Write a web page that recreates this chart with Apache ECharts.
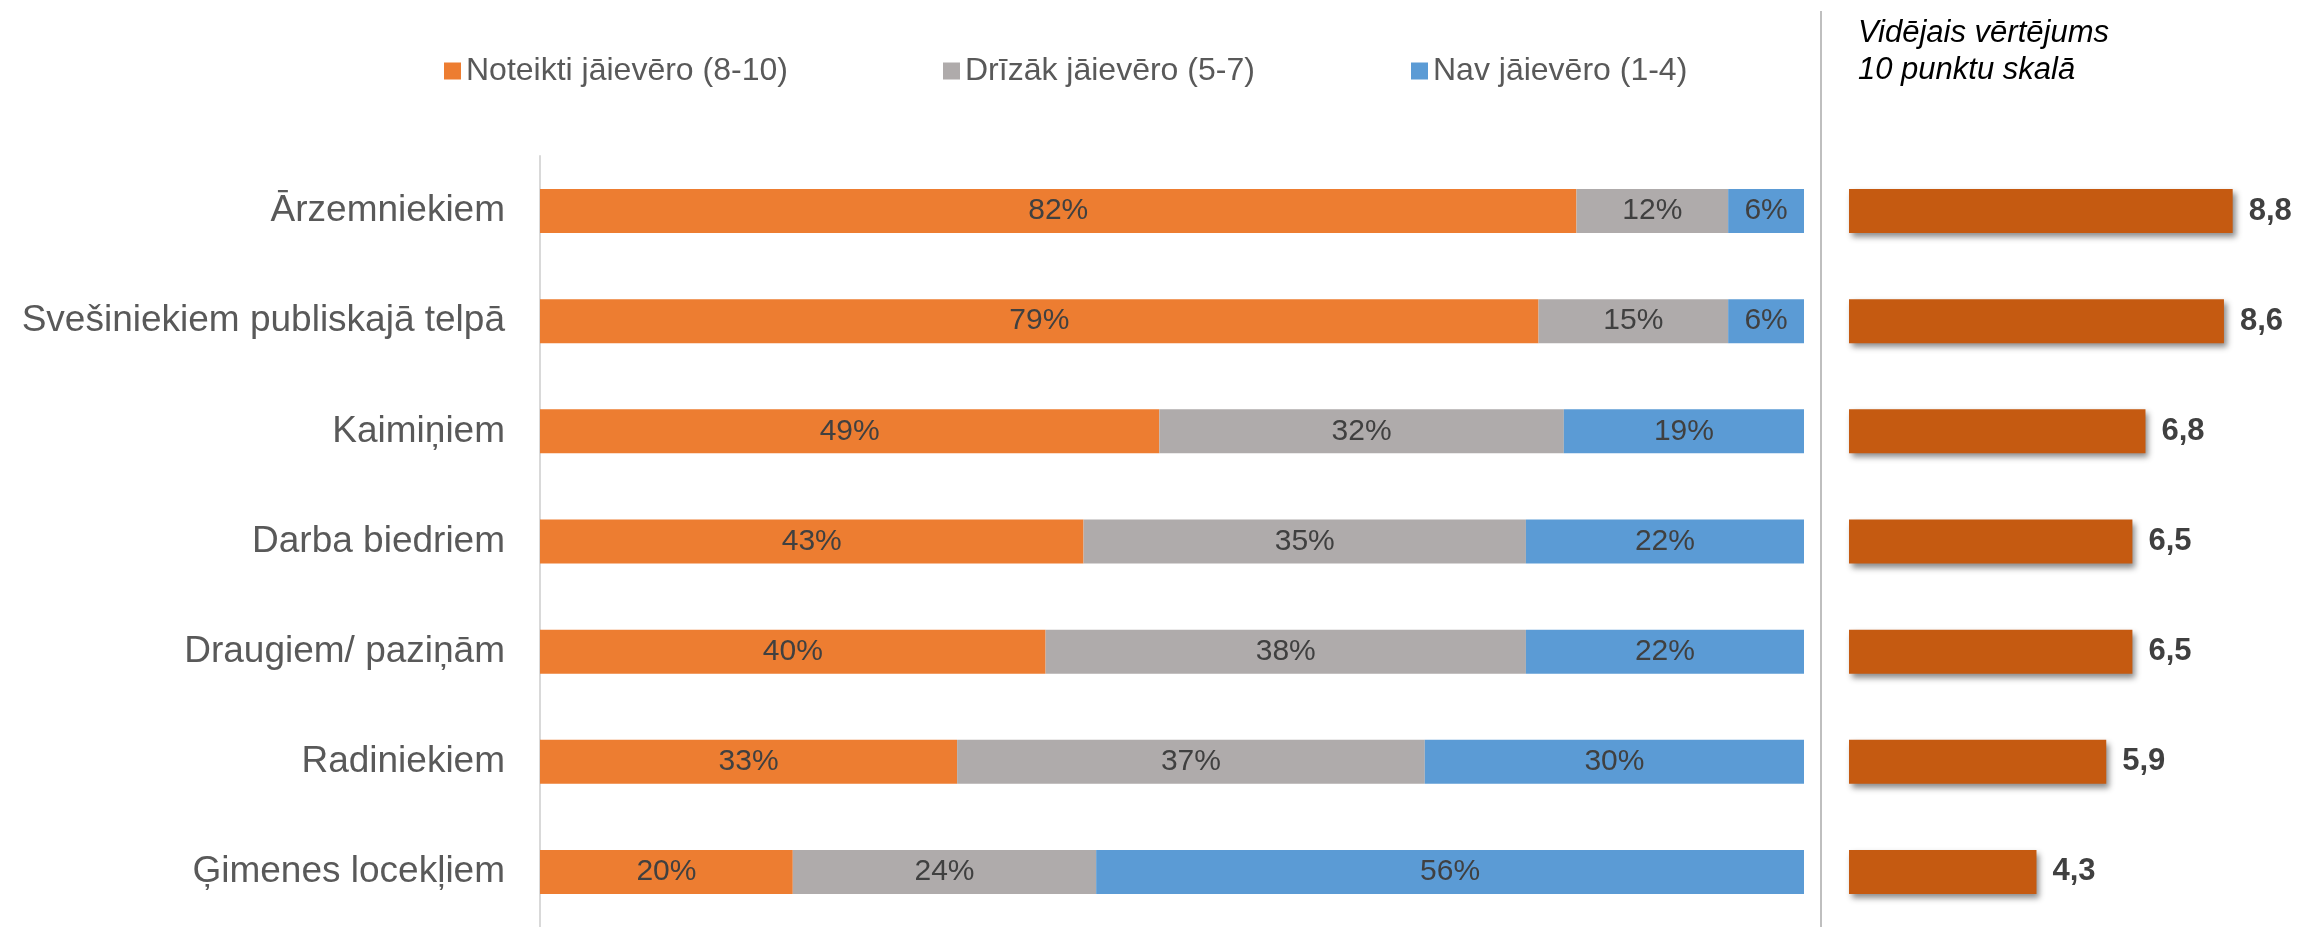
<!DOCTYPE html>
<html>
<head>
<meta charset="utf-8">
<script src="https://cdn.jsdelivr.net/npm/echarts@6/dist/echarts.min.js"></script>
<style>
  html, body { margin: 0; padding: 0; background: #fff; }
  #chart { width: 2298px; height: 927px; }
</style>
</head>
<body>
<div id="chart"></div>
<script>
var FONT = '"Liberation Sans", Arial, sans-serif';

// data
var categories = ["Ārzemniekiem", "Svešiniekiem publiskajā telpā", "Kaimiņiem", "Darba biedriem",
    "Draugiem/ paziņām", "Radiniekiem", "Ģimenes locekļiem"];
var seriesNames = ["Noteikti jāievēro (8-10)", "Drīzāk jāievēro (5-7)", "Nav jāievēro (1-4)"];
var definitely = [82, 79, 49, 43, 40, 33, 20];
var rather = [12, 15, 32, 35, 38, 37, 24];
var notNeeded = [6, 6, 19, 22, 22, 30, 56];
var average = [8.8, 8.6, 6.8, 6.5, 6.5, 5.9, 4.3];
var avgTitle = "Vidējais vērtējums\n10 punktu skalā";

var colors = ["#ED7D31", "#AFABAB", "#5B9BD5"];
var avgColor = "#C55A11";

var chart = echarts.init(document.getElementById("chart"));

function stackSeries(name, data, color) {
    return {
        name: name,
        type: "bar",
        stack: "total",
        xAxisIndex: 0,
        yAxisIndex: 0,
        barWidth: 44,
        itemStyle: { color: color },
        label: {
            show: true,
            position: "inside",
            formatter: "{c}%",
            color: "#404040",
            fontSize: 30,
            fontFamily: FONT
        },
        data: data
    };
}

// one legend per item so each sits where Excel put it
function legendAt(name, left) {
    return {
        data: [name],
        left: left,
        top: 50,
        icon: "rect",
        itemWidth: 17,
        itemHeight: 17,
        itemGap: 0,
        textStyle: { color: "#595959", fontSize: 32, fontFamily: FONT }
    };
}

var option = {
    animation: false,
    backgroundColor: "#fff",
    title: {
        text: avgTitle,
        left: 1853,
        top: 10,
        textStyle: {
            fontStyle: "italic",
            fontWeight: "normal",
            fontSize: 31,
            lineHeight: 37,
            color: "#000",
            fontFamily: FONT
        }
    },
    legend: [
        legendAt(seriesNames[0], 439),
        legendAt(seriesNames[1], 938),
        legendAt(seriesNames[2], 1406)
    ],
    grid: [
        { left: 540, width: 1264, top: 156, height: 774 },
        { left: 1849, width: 436, top: 156, height: 774 }
    ],
    xAxis: [
        { type: "value", gridIndex: 0, min: 0, max: 100, show: false },
        { type: "value", gridIndex: 1, min: 0, max: 10, show: false }
    ],
    yAxis: [
        {
            type: "category",
            gridIndex: 0,
            inverse: true,
            data: categories,
            axisLine: { show: true, lineStyle: { color: "#d9d9d9", width: 2 } },
            axisTick: { show: false },
            axisLabel: { color: "#595959", fontSize: 37, margin: 35, fontFamily: FONT }
        },
        {
            type: "category",
            gridIndex: 1,
            inverse: true,
            data: categories,
            show: false
        }
    ],
    graphic: [{
        type: "line",
        shape: { x1: 1821, y1: 11, x2: 1821, y2: 927 },
        style: { stroke: "#bfbfbf", lineWidth: 2 }
    }],
    series: [
        stackSeries(seriesNames[0], definitely, colors[0]),
        stackSeries(seriesNames[1], rather, colors[1]),
        stackSeries(seriesNames[2], notNeeded, colors[2]),
        {
            name: "Vidējais vērtējums",
            type: "bar",
            xAxisIndex: 1,
            yAxisIndex: 1,
            barWidth: 44,
            itemStyle: {
                color: avgColor,
                shadowColor: "rgba(0,0,0,0.45)",
                shadowBlur: 6,
                shadowOffsetX: 3,
                shadowOffsetY: 4
            },
            label: {
                show: true,
                position: "right",
                distance: 16,
                formatter: function (p) { return p.value.toFixed(1).replace(".", ","); },
                color: "#404040",
                fontSize: 31,
                fontWeight: "bold",
                fontFamily: FONT
            },
            data: average
        }
    ]
};

chart.setOption(option);
</script>
</body>
</html>
